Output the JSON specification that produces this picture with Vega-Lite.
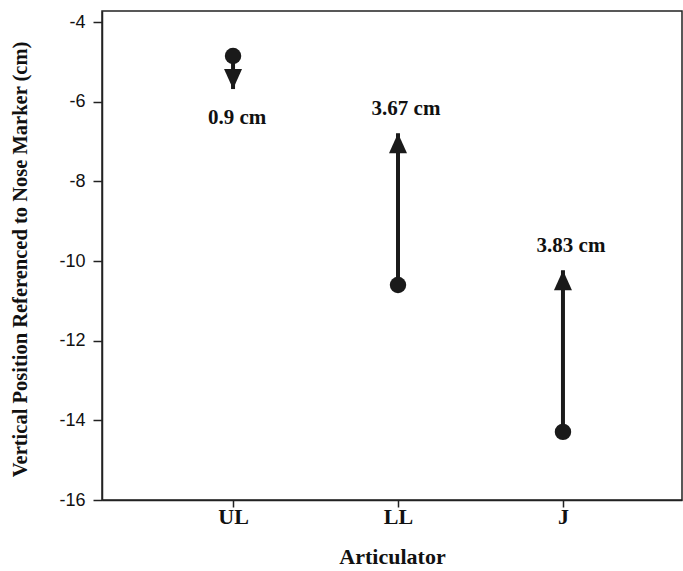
{
  "$schema": "https://vega.github.io/schema/vega-lite/v6.json",
  "width": 580,
  "height": 489,
  "autosize": "none",
  "padding": {"left": 102, "top": 11, "right": 1, "bottom": 71},
  "background": "white",
  "config": {
    "view": {"stroke": "#222", "strokeWidth": 1.5},
    "axis": {"grid": false, "domainColor": "#222", "domainWidth": 1.5, "tickColor": "#222", "tickWidth": 1.5}
  },
  "data": {
    "values": [
      {"articulator": "UL", "start": -4.85, "end": -5.68, "change": "0.9 cm"},
      {"articulator": "LL", "start": -10.6, "end": -6.79, "change": "3.67 cm"},
      {"articulator": "J", "start": -14.29, "end": -10.23, "change": "3.83 cm"}
    ]
  },
  "encoding": {
    "x": {
      "field": "articulator",
      "type": "nominal",
      "sort": ["UL", "LL", "J"],
      "scale": {"type": "point", "padding": 0.758, "align": 0.524},
      "axis": {
        "title": "Articulator",
        "labelAngle": 0,
        "labelFont": "Liberation Serif",
        "labelFontWeight": "bold",
        "labelFontSize": 22,
        "labelColor": "#111",
        "labelPadding": 9,
        "labelBaseline": "middle",
        "tickSize": 7,
        "encode": {"ticks": {"update": {"y2": {"value": -7}}}},
        "titleFont": "Liberation Serif",
        "titleFontWeight": "bold",
        "titleFontSize": 22,
        "titleColor": "#111",
        "titleY": 56,
        "titleBaseline": "middle"
      }
    }
  },
  "layer": [
    {
      "mark": {"type": "rule", "strokeWidth": 4, "color": "#1a1a1a"},
      "encoding": {
        "y": {
          "field": "start",
          "type": "quantitative",
          "scale": {"domain": [-16, -3.72], "nice": false, "zero": false},
          "axis": {
            "title": "Vertical Position Referenced to Nose Marker (cm)",
            "values": [-16, -14, -12, -10, -8, -6, -4],
            "labelExpr": "datum.value < 0 ? '-' + abs(datum.value) : '' + datum.value",
            "labelFont": "Liberation Sans",
            "labelFontSize": 18,
            "labelColor": "#111",
            "labelPadding": 8,
            "tickSize": 9,
            "encode": {"ticks": {"update": {"x2": {"value": 9}}}},
            "titleFont": "Liberation Serif",
            "titleFontWeight": "bold",
            "titleFontSize": 20.5,
            "titleColor": "#111",
            "titleAngle": -90,
            "titleX": -82,
            "titleY": 248,
            "titleAlign": "center",
            "titleBaseline": "middle"
          }
        },
        "y2": {"field": "end"}
      }
    },
    {
      "transform": [{"filter": "datum.end > datum.start"}],
      "mark": {"type": "point", "filled": true, "opacity": 1, "color": "#1a1a1a", "size": 400, "shape": "M0,0L-0.9,2L0.9,2Z"},
      "encoding": {"y": {"field": "end", "type": "quantitative"}}
    },
    {
      "transform": [{"filter": "datum.end < datum.start"}],
      "mark": {"type": "point", "filled": true, "opacity": 1, "color": "#1a1a1a", "size": 400, "shape": "M0,0L-0.9,-2L0.9,-2Z"},
      "encoding": {"y": {"field": "end", "type": "quantitative"}}
    },
    {
      "mark": {"type": "circle", "opacity": 1, "color": "#1a1a1a", "size": 270},
      "encoding": {"y": {"field": "start", "type": "quantitative"}}
    },
    {
      "transform": [{"filter": "datum.end > datum.start"}],
      "mark": {"type": "text", "font": "Liberation Serif", "fontWeight": "bold", "fontSize": 21, "color": "#111", "dy": -24, "dx": 8, "baseline": "middle"},
      "encoding": {"y": {"field": "end", "type": "quantitative"}, "text": {"field": "change"}}
    },
    {
      "transform": [{"filter": "datum.end < datum.start"}],
      "mark": {"type": "text", "font": "Liberation Serif", "fontWeight": "bold", "fontSize": 21, "color": "#111", "dy": 29, "dx": 4, "baseline": "middle"},
      "encoding": {"y": {"field": "end", "type": "quantitative"}, "text": {"field": "change"}}
    }
  ]
}
